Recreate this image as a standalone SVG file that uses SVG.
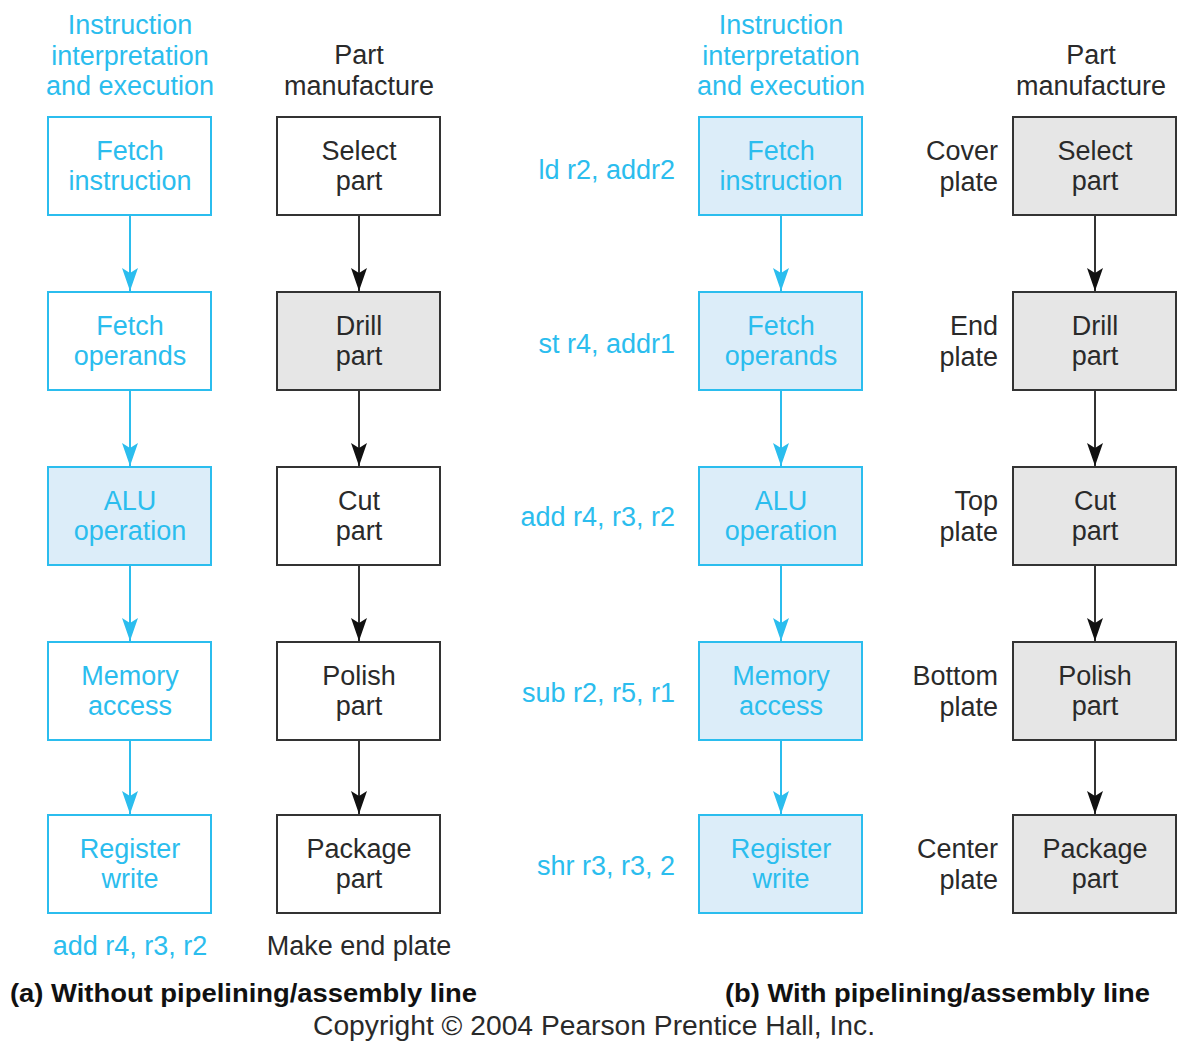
<svg xmlns="http://www.w3.org/2000/svg" width="1184" height="1047" viewBox="0 0 1184 1047">
<defs>
<style>
text{font-family:"Liberation Sans",Arial,sans-serif;font-size:27px}
.c{fill:#2bbdee}
.k{fill:#2a2a2a}
.m{text-anchor:middle}
.e{text-anchor:end}
.bc{fill:#fff;stroke:#2bbdee;stroke-width:2}
.bcf{fill:#dcedf9;stroke:#2bbdee;stroke-width:2}
.bk{fill:#fff;stroke:#333;stroke-width:2}
.bkf{fill:#e6e6e6;stroke:#333;stroke-width:2}
.lc{stroke:#2bbdee;stroke-width:2;fill:none;marker-end:url(#ac)}
.lk{stroke:#333;stroke-width:2;fill:none;marker-end:url(#ak)}
.cap{font-weight:bold;font-size:25px;fill:#111}
</style>
<marker id="ac" viewBox="0 0 23 16" refX="23" refY="8" markerWidth="23" markerHeight="16" markerUnits="userSpaceOnUse" orient="auto"><path d="M0,0 L5,8 L0,16 L23,8 Z" fill="#2bbdee"/></marker>
<marker id="ak" viewBox="0 0 23 16" refX="23" refY="8" markerWidth="23" markerHeight="16" markerUnits="userSpaceOnUse" orient="auto"><path d="M0,0 L5,8 L0,16 L23,8 Z" fill="#111"/></marker>
</defs>
<rect width="1184" height="1047" fill="#fff"/>

<g id="headers">
<text class="c m" x="130" y="34">Instruction</text>
<text class="c m" x="130" y="65">interpretation</text>
<text class="c m" x="130" y="95">and execution</text>
<text class="k m" x="359" y="64">Part</text>
<text class="k m" x="359" y="95">manufacture</text>
<text class="c m" x="781" y="34">Instruction</text>
<text class="c m" x="781" y="65">interpretation</text>
<text class="c m" x="781" y="95">and execution</text>
<text class="k m" x="1091" y="64">Part</text>
<text class="k m" x="1091" y="95">manufacture</text>
</g>

<g id="connectors">
<path class="lc" d="M130,216V291"/>
<path class="lc" d="M130,391V466"/>
<path class="lc" d="M130,566V641"/>
<path class="lc" d="M130,741V814"/>
<path class="lk" d="M359,216V291"/>
<path class="lk" d="M359,391V466"/>
<path class="lk" d="M359,566V641"/>
<path class="lk" d="M359,741V814"/>
<path class="lc" d="M781,216V291"/>
<path class="lc" d="M781,391V466"/>
<path class="lc" d="M781,566V641"/>
<path class="lc" d="M781,741V814"/>
<path class="lk" d="M1095,216V291"/>
<path class="lk" d="M1095,391V466"/>
<path class="lk" d="M1095,566V641"/>
<path class="lk" d="M1095,741V814"/>
</g>

<g id="a-fetch-instruction"><rect class="bc" x="48" y="117" width="163" height="98"/><text class="c m" x="130" y="160">Fetch</text><text class="c m" x="130" y="190">instruction</text></g>
<g id="a-fetch-operands"><rect class="bc" x="48" y="292" width="163" height="98"/><text class="c m" x="130" y="335">Fetch</text><text class="c m" x="130" y="365">operands</text></g>
<g id="a-alu"><rect class="bcf" x="48" y="467" width="163" height="98"/><text class="c m" x="130" y="510">ALU</text><text class="c m" x="130" y="540">operation</text></g>
<g id="a-memory"><rect class="bc" x="48" y="642" width="163" height="98"/><text class="c m" x="130" y="685">Memory</text><text class="c m" x="130" y="715">access</text></g>
<g id="a-register"><rect class="bc" x="48" y="815" width="163" height="98"/><text class="c m" x="130" y="858">Register</text><text class="c m" x="130" y="888">write</text></g>

<g id="a-select"><rect class="bk" x="277" y="117" width="163" height="98"/><text class="k m" x="359" y="160">Select</text><text class="k m" x="359" y="190">part</text></g>
<g id="a-drill"><rect class="bkf" x="277" y="292" width="163" height="98"/><text class="k m" x="359" y="335">Drill</text><text class="k m" x="359" y="365">part</text></g>
<g id="a-cut"><rect class="bk" x="277" y="467" width="163" height="98"/><text class="k m" x="359" y="510">Cut</text><text class="k m" x="359" y="540">part</text></g>
<g id="a-polish"><rect class="bk" x="277" y="642" width="163" height="98"/><text class="k m" x="359" y="685">Polish</text><text class="k m" x="359" y="715">part</text></g>
<g id="a-package"><rect class="bk" x="277" y="815" width="163" height="98"/><text class="k m" x="359" y="858">Package</text><text class="k m" x="359" y="888">part</text></g>

<g id="b-fetch-instruction"><rect class="bcf" x="699" y="117" width="163" height="98"/><text class="c m" x="781" y="160">Fetch</text><text class="c m" x="781" y="190">instruction</text></g>
<g id="b-fetch-operands"><rect class="bcf" x="699" y="292" width="163" height="98"/><text class="c m" x="781" y="335">Fetch</text><text class="c m" x="781" y="365">operands</text></g>
<g id="b-alu"><rect class="bcf" x="699" y="467" width="163" height="98"/><text class="c m" x="781" y="510">ALU</text><text class="c m" x="781" y="540">operation</text></g>
<g id="b-memory"><rect class="bcf" x="699" y="642" width="163" height="98"/><text class="c m" x="781" y="685">Memory</text><text class="c m" x="781" y="715">access</text></g>
<g id="b-register"><rect class="bcf" x="699" y="815" width="163" height="98"/><text class="c m" x="781" y="858">Register</text><text class="c m" x="781" y="888">write</text></g>

<g id="b-select"><rect class="bkf" x="1013" y="117" width="163" height="98"/><text class="k m" x="1095" y="160">Select</text><text class="k m" x="1095" y="190">part</text></g>
<g id="b-drill"><rect class="bkf" x="1013" y="292" width="163" height="98"/><text class="k m" x="1095" y="335">Drill</text><text class="k m" x="1095" y="365">part</text></g>
<g id="b-cut"><rect class="bkf" x="1013" y="467" width="163" height="98"/><text class="k m" x="1095" y="510">Cut</text><text class="k m" x="1095" y="540">part</text></g>
<g id="b-polish"><rect class="bkf" x="1013" y="642" width="163" height="98"/><text class="k m" x="1095" y="685">Polish</text><text class="k m" x="1095" y="715">part</text></g>
<g id="b-package"><rect class="bkf" x="1013" y="815" width="163" height="98"/><text class="k m" x="1095" y="858">Package</text><text class="k m" x="1095" y="888">part</text></g>

<g id="instr-labels">
<text class="c e" x="675" y="179">ld r2, addr2</text>
<text class="c e" x="675" y="353">st r4, addr1</text>
<text class="c e" x="675" y="526">add r4, r3, r2</text>
<text class="c e" x="675" y="702">sub r2, r5, r1</text>
<text class="c e" x="675" y="875">shr r3, r3, 2</text>
</g>

<g id="plate-labels">
<text class="k e" x="998" y="160">Cover</text><text class="k e" x="998" y="191">plate</text>
<text class="k e" x="998" y="335">End</text><text class="k e" x="998" y="366">plate</text>
<text class="k e" x="998" y="510">Top</text><text class="k e" x="998" y="541">plate</text>
<text class="k e" x="998" y="685">Bottom</text><text class="k e" x="998" y="716">plate</text>
<text class="k e" x="998" y="858">Center</text><text class="k e" x="998" y="889">plate</text>
</g>

<g id="captions">
<text class="c m" x="130" y="955">add r4, r3, r2</text>
<text class="k m" x="359" y="955">Make end plate</text>
<text class="cap" x="10" y="1002" textLength="467" lengthAdjust="spacingAndGlyphs">(a) Without pipelining/assembly line</text>
<text class="cap" x="725" y="1002" textLength="425" lengthAdjust="spacingAndGlyphs">(b) With pipelining/assembly line</text>
<text class="k" x="313" y="1035" textLength="562" lengthAdjust="spacingAndGlyphs">Copyright © 2004 Pearson Prentice Hall, Inc.</text>
</g>
</svg>
